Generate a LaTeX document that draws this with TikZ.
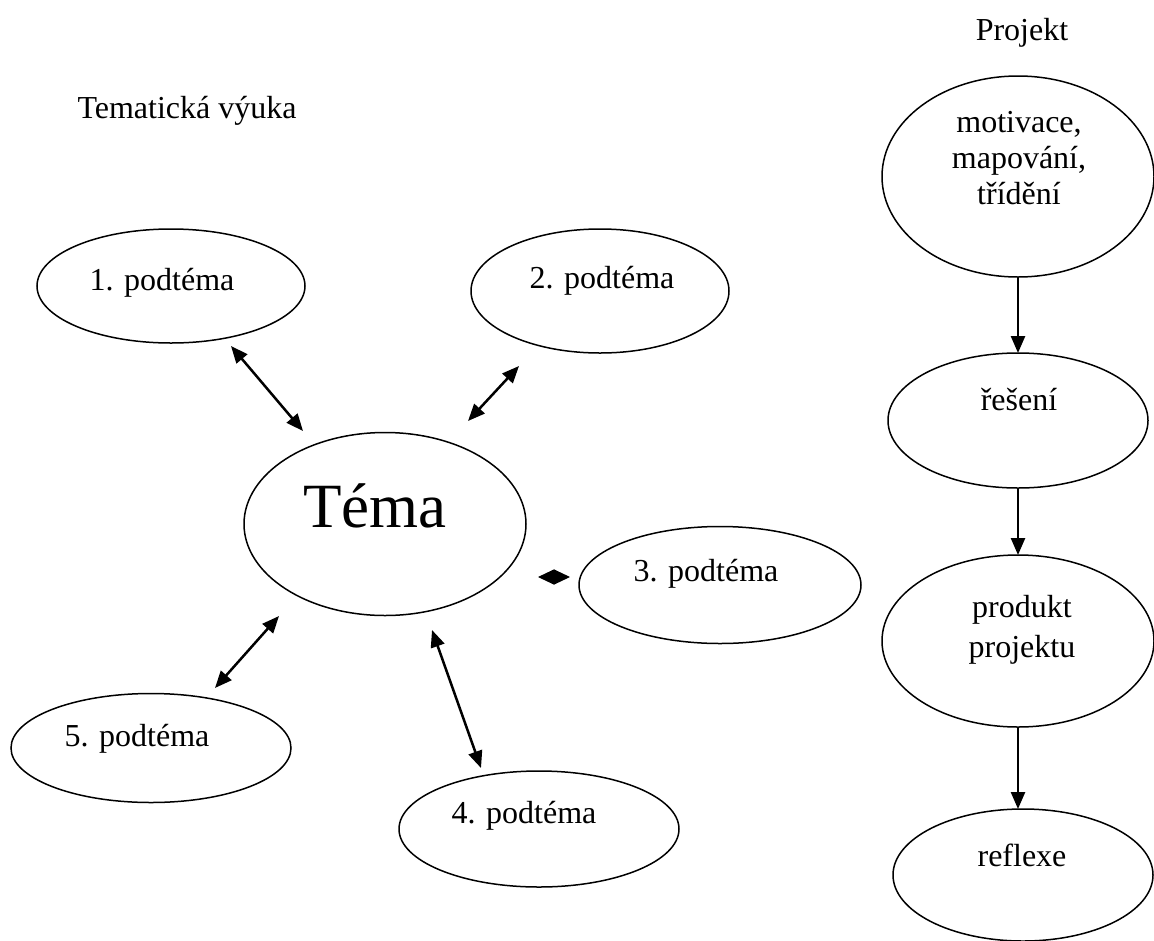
\documentclass[tikz,border=0pt]{standalone}
\usepackage{fontspec}
\setmainfont{Liberation Serif}
\usetikzlibrary{shapes.geometric,arrows.meta}
\tikzset{
  ell/.style={ellipse, draw=black, line width=1.5pt, inner sep=0pt, outer sep=0pt},
  lbl/.style={anchor=base, inner sep=0pt, font=\fontsize{32}{38}\selectfont},
  biglbl/.style={anchor=base, inner sep=0pt, font=\fontsize{63}{70}\selectfont},
  dbl/.style={{Triangle[length=17pt,width=14pt]}-{Triangle[length=17pt,width=14pt]}, line width=2.5pt},
  tinydbl/.style={{Triangle[length=16pt,width=15pt]}-{Triangle[length=16pt,width=15pt]}, line width=1pt},
  down/.style={-{Triangle[length=17pt,width=14pt]}, line width=2.5pt}
}
\begin{document}
\begin{tikzpicture}[x=1pt,y=-1pt]
\useasboundingbox (0,0) rectangle (1154,940);
% titles
\node[lbl] (tvt) at (187,118) {Tematická výuka};
\node[lbl] (prj) at (1022,40) {Projekt};
% left ellipses
\node[ell, minimum width=268pt, minimum height=114pt] (e1) at (171,286) {};
\node[lbl] (t1) at (162,290) {1. podtéma};
\node[ell, minimum width=258pt, minimum height=124pt] (e2) at (600,291) {};
\node[lbl] (t2) at (602,288) {2. podtéma};
\node[ell, minimum width=282pt, minimum height=183pt] (tema) at (385,524) {};
\node[biglbl] (ttema) at (375,527) {Téma};
\node[ell, minimum width=282pt, minimum height=117pt] (e3) at (720,585) {};
\node[lbl] (t3) at (706,581) {3. podtéma};
\node[ell, minimum width=280pt, minimum height=116pt] (e4) at (539,829) {};
\node[lbl] (t4) at (524,823) {4. podtéma};
\node[ell, minimum width=280pt, minimum height=109pt] (e5) at (151,748) {};
\node[lbl] (t5) at (137,746) {5. podtéma};
% arrow end points
\coordinate (a1s) at (231,346);
\coordinate (a1e) at (303,431);
\coordinate (a2s) at (519,366);
\coordinate (a2e) at (468,421);
\coordinate (a3s) at (538,577);
\coordinate (a3e) at (570,577);
\coordinate (a4s) at (432,630);
\coordinate (a4e) at (481,768);
\coordinate (a5s) at (279,616);
\coordinate (a5e) at (215,688);
\draw[dbl] (a1s) -- (a1e);
\draw[dbl] (a2s) -- (a2e);
\draw[tinydbl] (a3s) -- (a3e);
\draw[dbl] (a4s) -- (a4e);
\draw[dbl] (a5s) -- (a5e);
% right column
\node[ell, minimum width=272pt, minimum height=201pt] (mot) at (1018,176.5) {};
\node[lbl] (tm1) at (1019,132) {motivace,};
\node[lbl] (tm2) at (1019,168) {mapování,};
\node[lbl] (tm3) at (1019,204) {třídění};
\node[ell, minimum width=260pt, minimum height=135pt] (res) at (1018,420.5) {};
\node[lbl] (tres) at (1019,410) {řešení};
\node[ell, minimum width=272pt, minimum height=172pt] (prod) at (1018,641) {};
\node[lbl] (tp1) at (1022,617) {produkt};
\node[lbl] (tp2) at (1022,657) {projektu};
\node[ell, minimum width=260pt, minimum height=132pt] (refl) at (1023,875) {};
\node[lbl] (trefl) at (1022,866) {reflexe};
\draw[down] (1018,277) coordinate (m1) -- (1018,353) coordinate (r1);
\draw[down] (res.south) -- (prod.north);
\draw[down] (prod.south) -- (prod.south |- refl.north);
\end{tikzpicture}
\end{document}
